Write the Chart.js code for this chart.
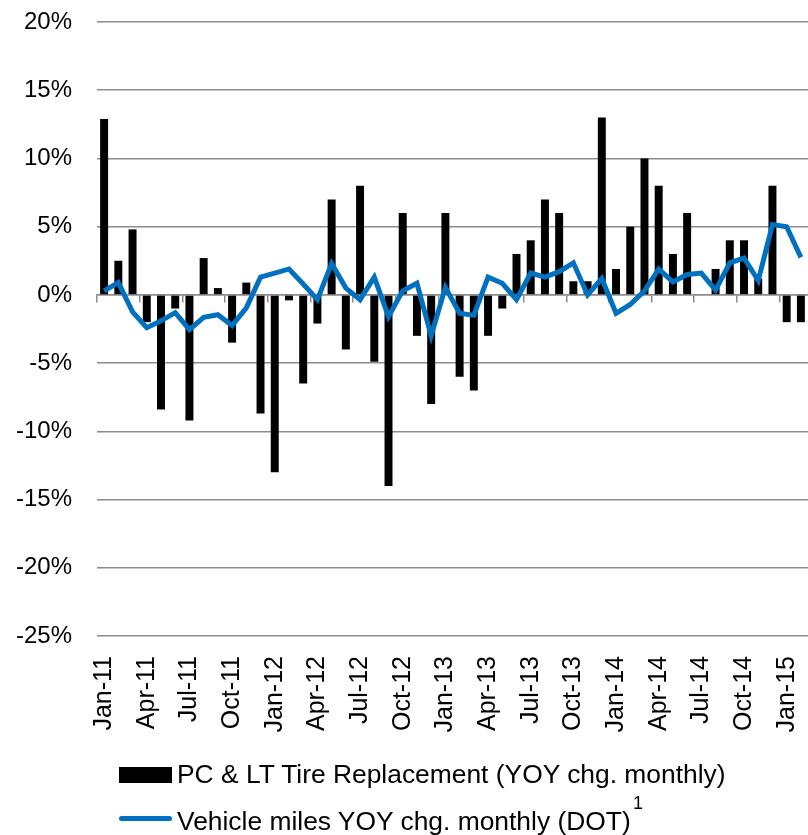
<!DOCTYPE html>
<html>
<head>
<meta charset="utf-8">
<script src="https://cdn.jsdelivr.net/npm/chart.js@4"></script>
<style>
  body { margin: 0; background: #fff; }
  #wrap { position: relative; width: 808px; height: 835px; font-family: "Liberation Sans", Arial, sans-serif; }
  #myChart { position: absolute; left: 0; top: 0; }
  .lg { position: absolute; font-size: 26.4px; line-height: 26px; color: #000; white-space: pre; }
</style>
</head>
<body>
<div id="wrap">
  <canvas id="myChart" width="808" height="835"></canvas>
  <div style="position:absolute;left:119px;top:767px;width:53px;height:16px;background:#000"></div>
  <div class="lg" style="left:177px;top:761px">PC &amp; LT Tire Replacement (YOY chg. monthly)</div>
  <div style="position:absolute;left:119px;top:816px;width:53px;height:5px;border-radius:3px;background:#0070C0"></div>
  <div class="lg" style="left:177px;top:808px">Vehicle miles YOY chg. monthly (DOT)</div>
  <div class="lg" style="left:633px;top:794px;font-size:18px;line-height:18px">1</div>
</div>
<script>
// months Jan-11 .. Feb-15
const months = [
  'Jan-11','Feb-11','Mar-11','Apr-11','May-11','Jun-11','Jul-11','Aug-11','Sep-11','Oct-11','Nov-11','Dec-11',
  'Jan-12','Feb-12','Mar-12','Apr-12','May-12','Jun-12','Jul-12','Aug-12','Sep-12','Oct-12','Nov-12','Dec-12',
  'Jan-13','Feb-13','Mar-13','Apr-13','May-13','Jun-13','Jul-13','Aug-13','Sep-13','Oct-13','Nov-13','Dec-13',
  'Jan-14','Feb-14','Mar-14','Apr-14','May-14','Jun-14','Jul-14','Aug-14','Sep-14','Oct-14','Nov-14','Dec-14',
  'Jan-15','Feb-15'
];

// PC & LT tire replacement, YOY % change
const tireYoy = [
  12.9, 2.5, 4.8, -2.0, -8.4, -1.0, -9.2, 2.7, 0.5, -3.5, 0.9, -8.7,
  -13.0, -0.4, -6.5, -2.1, 7.0, -4.0, 8.0, -4.9, -14.0, 6.0, -3.0, -8.0,
  6.0, -6.0, -7.0, -3.0, -1.0, 3.0, 4.0, 7.0, 6.0, 1.0, 1.0, 13.0,
  1.9, 5.0, 10.0, 8.0, 3.0, 6.0, 0.0, 1.9, 4.0, 4.0, 1.2, 8.0,
  -2.0, -2.0
];

// vehicle miles (DOT), YOY % change
const milesYoy = [
  0.3, 0.9, -1.25, -2.4, -1.9, -1.3, -2.55, -1.65, -1.45, -2.25, -0.95, 1.3,
  1.6, 1.9, 0.8, -0.35, 2.3, 0.5, -0.35, 1.3, -1.6, 0.3, 0.85, -3.0,
  0.55, -1.35, -1.5, 1.3, 0.85, -0.35, 1.6, 1.3, 1.7, 2.35, 0.0, 1.2,
  -1.35, -0.7, 0.3, 1.9, 0.95, 1.5, 1.6, 0.35, 2.35, 2.7, 1.05, 5.15,
  5.0, 2.75
];

const yTicks = [-25, -20, -15, -10, -5, 0, 5, 10, 15, 20];

const gridGray = '#8c8c8c';
Chart.defaults.font.family = '"Liberation Sans", Arial, sans-serif';
Chart.defaults.font.size = 24;
Chart.defaults.color = '#000';

const ctx = document.getElementById('myChart');
const chart = new Chart(ctx, {
    type: 'bar',
    data: {
        labels: months,
        datasets: [{
            type: 'line',
            label: 'Vehicle miles YOY chg. monthly (DOT)',
            data: milesYoy,
            borderColor: '#0070C0',
            borderWidth: 5,
            pointRadius: 0,
            tension: 0,
            fill: false,
            xAxisID: 'x',
            order: 0,
        }, {
            label: 'PC & LT Tire Replacement (YOY chg. monthly)',
            data: tireYoy,
            backgroundColor: '#000',
            categoryPercentage: 1,
            barPercentage: 0.56,
            xAxisID: 'x',
            order: 1,
        }],
    },
    options: {
        responsive: false,
        animation: false,
        layout: { padding: { top: 22, right: 0, bottom: 89, left: 0 } },
        plugins: { legend: { display: false }, tooltip: { enabled: false } },
        scales: {
            x: {
                type: 'category',
                offset: true,
                grid: { display: false, drawTicks: false },
                border: { display: false },
                ticks: {
                    autoSkip: false,
                    minRotation: 90,
                    maxRotation: 90,
                    padding: 20,
                    font: { size: 25 },
                    callback: (v, i) => (i % 3 === 0 ? months[i] : ''),
                },
                afterFit: s => { s.height = 110; s.paddingLeft = 0; s.paddingRight = 0; },
            },
            x2: {
                type: 'category',
                position: { y: 0 },
                offset: true,
                grid: {
                    offset: true,
                    drawOnChartArea: false,
                    drawTicks: true,
                    tickLength: 7,
                    lineWidth: 1.5,
                    color: c => (c.index % 3 === 0 ? gridGray : 'rgba(0,0,0,0)'),
                },
                border: { display: true, color: gridGray, width: 1.5 },
                ticks: { display: false },
                afterFit: s => { s.paddingLeft = 0; s.paddingRight = 0; },
            },
            y: {
                min: -25,
                max: 20,
                afterBuildTicks: s => { s.ticks = yTicks.map(v => ({ value: v })); },
                grid: { color: gridGray, lineWidth: 1.5, drawTicks: false },
                border: { display: false },
                ticks: { padding: 25, callback: v => v + '%' },
                afterFit: s => { s.width = 97; s.paddingTop = 0; s.paddingBottom = 0; },
            },
        },
    },
});
</script>
</body>
</html>
